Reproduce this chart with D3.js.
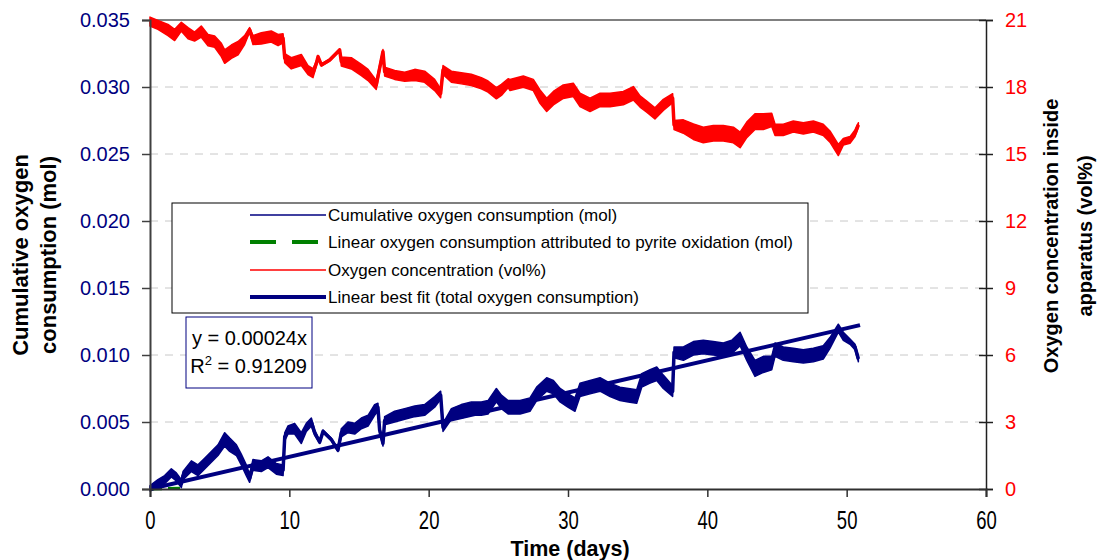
<!DOCTYPE html>
<html><head><meta charset="utf-8">
<script src="https://cdn.jsdelivr.net/npm/d3@7"></script>
<style>body{margin:0;background:#fff}svg{display:block;font-family:Arial,"Liberation Sans",sans-serif}</style>
</head><body><svg id="c" width="1097" height="560"></svg>
<script>
// ---- data ----
const o2Days = [0,0.57,1.29,1.77,2.25,2.73,3.2,3.68,4.16,4.64,5.12,5.36,5.84,6.32,6.79,7.15,7.39,7.99,8.7,9.19,9.55,9.67,10.14,10.86,11.34,11.7,11.94,12.06,12.3,12.9,13.61,13.73,14.45,15.17,15.65,16.24,16.48,16.72,16.84,17.56,18.28,19.0,19.71,20.43,20.86,21.03,21.63,22.34,23.06,23.78,24.26,24.86,25.22,25.7,25.84,26.79,27.51,27.99,28.47,28.95,29.66,30.38,30.86,31.58,32.3,33.02,33.97,34.69,35.17,35.65,36.24,36.84,37.51,37.61,38.28,39.0,39.71,40.43,41.15,41.87,42.35,42.83,43.42,44.02,44.62,44.86,45.45,46.17,46.89,47.61,48.32,48.8,49.4,49.76,50.24,50.6,50.84];
const o2Conc = [20.93,20.78,20.55,20.33,20.7,20.41,20.26,20.48,20.1,20.03,19.66,19.36,19.58,19.74,20.1,20.56,20.1,20.18,20.26,20.1,20.18,19.29,19.06,19.21,18.76,18.62,19.06,19.36,18.99,19.21,19.66,19.14,19.06,18.76,18.54,18.09,18.84,19.58,18.69,18.54,18.46,18.54,18.46,18.09,17.72,18.76,18.46,18.39,18.32,18.17,18.02,17.72,17.87,18.17,18.09,18.24,18.09,17.57,17.2,17.5,17.79,17.87,17.42,17.2,17.42,17.42,17.5,17.72,17.35,17.12,16.82,17.2,17.5,16.3,16.23,16.0,15.85,15.93,15.93,15.85,15.63,16.08,16.45,16.45,16.53,16.08,16.08,16.23,16.15,16.23,16.08,15.78,15.18,15.55,15.63,15.93,16.3];
// half-height of the noisy band around each reading (vol%)
const o2Noise = [0.2,0.2,0.25,0.25,0.2,0.25,0.2,0.25,0.25,0.25,0.3,0.3,0.3,0.3,0.2,0.1,0.2,0.25,0.25,0.25,0.2,0.2,0.25,0.25,0.2,0.2,0.1,0.05,0.05,0.05,0.05,0.2,0.25,0.25,0.25,0.2,0.15,0.1,0.2,0.2,0.2,0.25,0.25,0.25,0.2,0.2,0.25,0.25,0.25,0.25,0.25,0.25,0.25,0.2,0.25,0.25,0.25,0.3,0.3,0.3,0.3,0.3,0.3,0.3,0.3,0.3,0.3,0.3,0.25,0.25,0.25,0.25,0.2,0.2,0.3,0.35,0.35,0.35,0.35,0.35,0.35,0.35,0.35,0.35,0.3,0.25,0.25,0.25,0.25,0.25,0.25,0.25,0.25,0.15,0.15,0.15,0.1];

const cumDays = [0,0.57,1.05,1.53,1.89,2.25,2.37,2.97,3.44,3.92,4.4,4.88,5.36,5.72,6.2,6.55,6.91,7.15,7.39,7.99,8.47,9.07,9.55,9.67,9.9,10.38,10.86,11.22,11.58,11.82,12.18,12.42,13.01,13.49,13.73,14.21,14.69,15.17,15.65,16.12,16.36,16.48,16.72,16.84,17.56,18.28,19.0,19.71,20.43,20.86,21.03,21.63,22.34,23.06,23.78,24.26,24.86,25.22,25.7,26.56,27.27,27.75,28.47,28.95,29.43,30.02,30.5,30.86,31.58,32.3,33.02,33.73,34.33,34.93,35.29,35.89,36.37,36.84,37.51,37.61,38.28,39.0,39.71,40.43,41.15,41.75,42.35,42.83,43.42,44.02,44.62,44.86,45.45,46.17,46.89,47.61,48.32,48.8,49.4,49.76,50.24,50.6,50.84];
const cumO2 = [0.00005,0.0004,0.0007,0.0012,0.0009,0.0004,0.001,0.0017,0.0014,0.0019,0.0024,0.0029,0.0037,0.0033,0.0029,0.0022,0.0014,0.0008,0.0018,0.0017,0.002,0.0015,0.0014,0.0039,0.0044,0.0045,0.0038,0.0046,0.005,0.0042,0.0035,0.0043,0.0037,0.0029,0.0042,0.0046,0.0045,0.0049,0.0051,0.0059,0.0061,0.0044,0.0034,0.0051,0.0054,0.0056,0.0058,0.0059,0.0065,0.007,0.0046,0.0056,0.0058,0.006,0.006,0.0061,0.007,0.0065,0.0061,0.0061,0.0063,0.0071,0.0078,0.0076,0.007,0.0066,0.0063,0.0074,0.0076,0.0078,0.0074,0.0071,0.007,0.0069,0.0081,0.0084,0.0086,0.008,0.0073,0.0102,0.0101,0.0105,0.0106,0.0105,0.0104,0.0106,0.0112,0.0101,0.009,0.0093,0.0094,0.0104,0.0101,0.01,0.0099,0.01,0.0102,0.0109,0.012,0.0114,0.011,0.0106,0.0097];
// half-height of the noisy band around each reading (mol)
const cumNoise = [0.0002,0.0003,0.0003,0.0003,0.0003,0.0003,0.0003,0.0004,0.0004,0.0004,0.0004,0.0004,0.0005,0.0005,0.0004,0.0004,0.0004,0.0003,0.0004,0.0004,0.0004,0.0004,0.0004,0.0003,0.0003,0.0004,0.0004,0.0003,0.0003,0.0002,0.0001,0.0001,0.0001,0.0001,0.0003,0.0004,0.0004,0.0004,0.0004,0.0004,0.0003,0.0002,0.0002,0.0003,0.0004,0.0004,0.0004,0.0004,0.0004,0.0003,0.0003,0.0004,0.0005,0.0005,0.0005,0.0005,0.0005,0.0005,0.0005,0.0005,0.0005,0.0005,0.0005,0.0005,0.0005,0.0005,0.0005,0.0005,0.0005,0.0005,0.0005,0.0005,0.0005,0.0005,0.0005,0.0005,0.0005,0.0005,0.0004,0.0004,0.0005,0.0005,0.0005,0.0005,0.0005,0.0005,0.0005,0.0005,0.0006,0.0006,0.0005,0.0005,0.0005,0.0005,0.0005,0.0005,0.0005,0.0004,0.0003,0.0003,0.0002,0.0002,0.0002];

const pyriteDays = [0, 2.3];
const pyriteO2 = [0, 0.00005];

const fitSlope = 0.00024;
const fitDays = [0, 50.96];

const xTicks = [0,10,20,30,40,50,60];
const leftTicks = [0,0.005,0.010,0.015,0.020,0.025,0.030,0.035];
const rightTicks = [0,3,6,9,12,15,18,21];

const legendLabels = ["Cumulative oxygen consumption (mol)","Linear oxygen consumption attributed to pyrite oxidation (mol)","Oxygen concentration (vol%)","Linear best fit (total oxygen consumption)"];
const equationLines = ["y = 0.00024x", " = 0.91209"];

// ---- chart ----
const W = 1097, H = 560;
const m = {l:150, r:111, t:20, b:71};
const pw = W - m.l - m.r, ph = H - m.t - m.b;
const NAVY = "#000080", RED = "#ff0000", GREEN = "#008000";
const FONT = "Arial, 'Liberation Sans', sans-serif";

const svg = d3.select("#c");
const g = svg.append("g").attr("transform", `translate(${m.l},${m.t})`);

const x = d3.scaleLinear().domain([0,60]).range([0,pw]);
const yL = d3.scaleLinear().domain([0,0.035]).range([ph,0]);
const yR = d3.scaleLinear().domain([0,21]).range([ph,0]);

// grid
g.append("g").selectAll("line").data(leftTicks.filter(d=>d>0 && d<0.035)).join("line")
  .attr("x1",0).attr("x2",pw).attr("y1",d=>yL(d)).attr("y2",d=>yL(d))
  .attr("stroke","#c8c8c8").attr("stroke-width",1).attr("stroke-dasharray","8,7");

// top border
g.append("line").attr("x1",0).attr("x2",pw).attr("y1",0).attr("y2",0).attr("stroke","#808080").attr("stroke-width",2);

function band(days, vals, noise, y, color) {
  const idx = d3.range(vals.length);
  const area = d3.area().x(i=>x(days[i])).y0(i=>y(vals[i]-noise[i])).y1(i=>y(vals[i]+noise[i]));
  g.append("path").attr("d", area(idx)).attr("fill",color).attr("stroke",color).attr("stroke-width",1.5)
    .attr("stroke-linejoin","round");
  const line = d3.line().x(i=>x(days[i])).y(i=>y(vals[i]));
  g.append("path").attr("d", line(idx)).attr("fill","none").attr("stroke",color).attr("stroke-width",3.5)
    .attr("stroke-linejoin","round");
}
band(o2Days, o2Conc, o2Noise, yR, RED);
band(cumDays, cumO2, cumNoise, yL, NAVY);

// pyrite dashed
const lineP = d3.line().x((d,i)=>x(pyriteDays[i])).y(d=>yL(d));
g.append("path").attr("d", lineP(pyriteO2)).attr("fill","none").attr("stroke",GREEN)
  .attr("stroke-width",3).attr("stroke-dasharray","12,6");

// fit line
g.append("path").attr("d", d3.line().x(d=>x(d)).y(d=>yL(fitSlope*d))(fitDays))
  .attr("fill","none").attr("stroke",NAVY).attr("stroke-width",4);

// axes
const axL = g.append("g").call(d3.axisLeft(yL).tickValues(leftTicks).tickFormat(d3.format(".3f")).tickSize(8).tickPadding(12));
axL.select(".domain").attr("stroke","#404040").attr("stroke-width",2);
axL.selectAll(".tick line").attr("stroke","#404040").attr("stroke-width",1.5);
axL.selectAll("text").attr("fill",NAVY).attr("font-size",20).attr("font-family",FONT);

const axR = g.append("g").attr("transform",`translate(${pw},0)`).call(d3.axisRight(yR).tickValues(rightTicks).tickSize(7).tickPadding(12));
axR.select(".domain").attr("stroke","#202020").attr("stroke-width",1.5);
axR.selectAll(".tick line").attr("x1",-7).attr("stroke","#202020").attr("stroke-width",1.5);
axR.selectAll("text").attr("fill",RED).attr("font-size",20).attr("font-family",FONT);

const axB = g.append("g").attr("transform",`translate(0,${ph})`).call(d3.axisBottom(x).tickValues(xTicks).tickSize(8));
axB.select(".domain").attr("stroke","#303030").attr("stroke-width",2);
axB.selectAll(".tick line").attr("stroke","#303030").attr("stroke-width",1.5);
axB.selectAll("text").attr("fill","#000").attr("font-size",25).attr("font-family",FONT)
  .attr("y",40).attr("dy",0).attr("transform","scale(0.74,1)");

// axis titles
svg.append("text").attr("transform",`translate(570,555.5)`).attr("text-anchor","middle")
  .attr("font-weight","bold").attr("font-size",21.5).text("Time (days)");

const lt = svg.append("text").attr("transform","translate(28,255) rotate(-90)").attr("text-anchor","middle")
  .attr("font-weight","bold").attr("font-size",22);
lt.append("tspan").attr("x",0).attr("y",0).text("Cumulative oxygen");
lt.append("tspan").attr("x",0).attr("y",28).text("consumption (mol)");

const rt = svg.append("text").attr("transform","translate(1058,236) rotate(-90)").attr("text-anchor","middle")
  .attr("font-weight","bold").attr("font-size",20);
rt.append("tspan").attr("x",0).attr("y",0).text("Oxygen concentration inside");
rt.append("tspan").attr("x",0).attr("y",34).text("apparatus (vol%)");

// legend
const lg = svg.append("g");
lg.append("rect").attr("x",172).attr("y",203).attr("width",636).attr("height",110).attr("fill","#fff").attr("stroke","#000").attr("stroke-width",1);
const rowsY = [215,242,270,297];
const legStyles = [
  {c:NAVY,w:1.5,dash:null},
  {c:GREEN,w:4,dash:"26,16"},
  {c:RED,w:1.5,dash:null},
  {c:NAVY,w:4,dash:null}];
legendLabels.forEach((t,i)=>{
  lg.append("line").attr("x1",250).attr("x2",326).attr("y1",rowsY[i]).attr("y2",rowsY[i])
    .attr("stroke",legStyles[i].c).attr("stroke-width",legStyles[i].w).attr("stroke-dasharray",legStyles[i].dash);
  lg.append("text").attr("x",328).attr("y",rowsY[i]+6).attr("font-size",17).attr("fill","#000").text(t);
});

// equation box
const eq = svg.append("g");
eq.append("rect").attr("x",186).attr("y",317).attr("width",126).attr("height",71).attr("fill","#fff").attr("stroke",NAVY).attr("stroke-width",1);
const eqT = eq.append("text").attr("text-anchor","end").attr("font-size",20).attr("fill","#000");
eqT.append("tspan").attr("x",307).attr("y",345).text(equationLines[0]);
const t2 = eqT.append("tspan").attr("x",307).attr("y",373);
t2.append("tspan").text("R");
t2.append("tspan").attr("dy",-8).attr("font-size",13).text("2");
t2.append("tspan").attr("dy",8).text(equationLines[1]);
</script></body></html>
